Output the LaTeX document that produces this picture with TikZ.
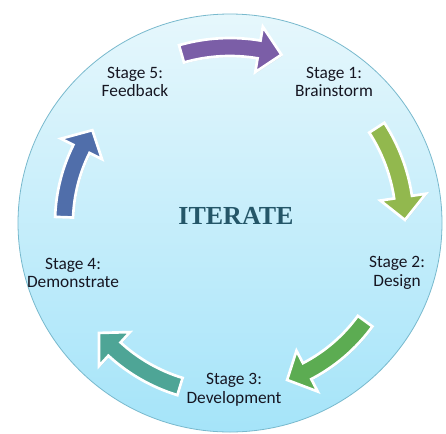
\documentclass[tikz,border=0pt]{standalone}
\usepackage{fontspec}
\setmainfont{Carlito}
\newfontfamily\iterfont{Liberation Serif}
\usetikzlibrary{shadows}
\definecolor{circTop}{RGB}{230,247,252}
\definecolor{circMid}{RGB}{200,240,252}
\definecolor{circBot}{RGB}{165,228,249}
\definecolor{circLine}{RGB}{120,185,205}
\definecolor{arPurple}{RGB}{123,94,167}
\definecolor{arOlive}{RGB}{146,184,78}
\definecolor{arGreen}{RGB}{92,172,82}
\definecolor{arTeal}{RGB}{78,165,150}
\definecolor{arBlue}{RGB}{80,110,170}
\definecolor{txt}{RGB}{22,22,34}
\definecolor{iter}{RGB}{36,86,104}
\tikzset{
  stagelabel/.style={font=\fontsize{13}{14}\selectfont, text=txt, align=center, inner sep=0pt},
  cyclearrowstyle/.style={fill=#1, draw=white, line width=2pt, line join=miter,
    drop shadow={shadow xshift=0.8pt, shadow yshift=-0.8pt, opacity=0.22}},
}
% #1 colour, #2 radius, #3 tail angle, #4 tip angle
\newcommand\cyclearrow[4]{%
  \path[cyclearrowstyle=#1, shift={(C)}]
    ({#3}:{#2+9}) arc[start angle={#3}, end angle={#4-7.5}, radius={#2+9}]
    -- ({#4-7.5}:{#2+23}) -- ({#4}:{#2}) -- ({#4-7.5}:{#2-23})
    -- ({#4-7.5}:{#2-9}) arc[start angle={#4-7.5}, end angle={#3}, radius={#2-9}]
    -- cycle;
}
\begin{document}
\begin{tikzpicture}[x=0.75pt,y=-0.75pt]
\useasboundingbox (0,0) rectangle (446,433);
\fill[white] (0,0) rectangle (446,433);
\coordinate (C) at (230,223);
\path[top color=circTop, middle color=circMid, bottom color=circBot,
      draw=circLine, line width=0.6pt] (C) ellipse [x radius=212, y radius=209];

\cyclearrow{arPurple}{176}{254}{287}
\cyclearrow{arOlive}{175}{327}{359}
\cyclearrow{arGreen}{167}{36}{70}
\cyclearrow{arTeal}{171}{107}{140}
\cyclearrow{arBlue}{166}{182}{214}

\node[font=\iterfont\bfseries\fontsize{19.5}{20}\selectfont, text=iter] (iterate) at (236,216) {ITERATE};

\node[stagelabel] (s5) at (135,82) {Stage 5:\\Feedback};
\node[stagelabel] (s1) at (334,82) {Stage 1:\\Brainstorm};
\node[stagelabel] (s2) at (397,273) {Stage 2:\\Design};
\node[stagelabel] (s4) at (73,273) {Stage 4:\\Demonstrate};
\node[stagelabel] (s3) at (234,390) {Stage 3:\\Development};
\end{tikzpicture}
\end{document}
